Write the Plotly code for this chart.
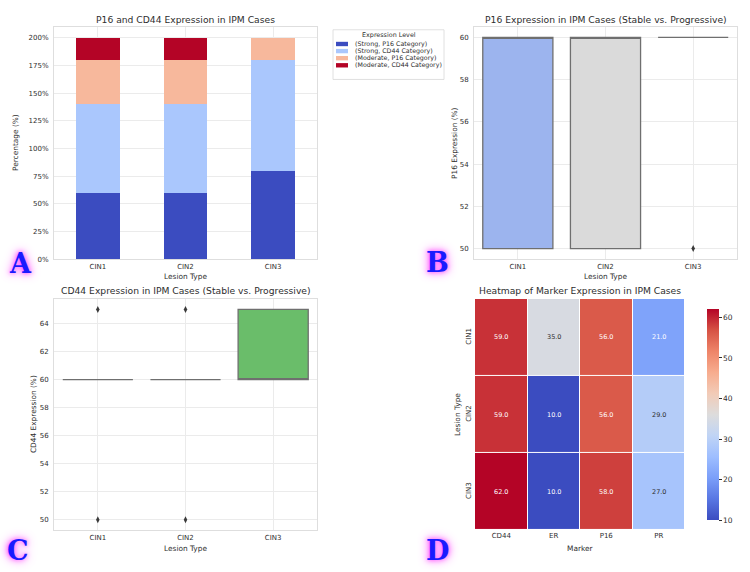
import numpy as np
import plotly.graph_objects as go
import plotly.colors as pc

W, H = 750, 572

# ---------------- data ----------------
lesions = ["CIN1", "CIN2", "CIN3"]

# Panel A: stacked percentages
bar_series = ["(Strong, P16 Category)", "(Strong, CD44 Category)",
              "(Moderate, P16 Category)", "(Moderate, CD44 Category)"]
strong_p16 = [60, 60, 80]
strong_cd44 = [80, 80, 100]
moderate_p16 = [40, 40, 20]
moderate_cd44 = [20, 20, 0]
bar_colors = ["#3b4cc0", "#aac7fd", "#f7b89c", "#b40426"]
pct_ticks = [0, 25, 50, 75, 100, 125, 150, 175, 200]

# Panels B/C: case values per lesion type
p16_cin1 = [50, 50, 60, 60, 60]
p16_cin2 = [50, 50, 60, 60, 60]
p16_cin3 = [60, 60, 60, 60, 50]
cd44_cin1 = [60, 60, 60, 65, 50]
cd44_cin2 = [60, 60, 60, 65, 50]
cd44_cin3 = [60, 60, 65, 65, 60]
p16_box_colors = ["#9cb4ee", "#dadada", "#e8a08a"]
cd44_box_colors = ["#8fb3e0", "#f0a860", "#6abd6a"]

# Panel D: heatmap of means
markers = ["CD44", "ER", "P16", "PR"]
heat_cin1 = [59, 35, 56, 21]
heat_cin2 = [59, 10, 56, 29]
heat_cin3 = [62, 10, 58, 27]

coolwarm = ['#3b4cc0', '#5977e3', '#7b9ff9', '#9ebeff', '#c0d4f5', '#dddcdc',
            '#f2cbb7', '#f7ac8e', '#ee8468', '#d65244', '#b40426']
cw_scale = [[i / 10, c] for i, c in enumerate(coolwarm)]

TXT = "#2e2e2e"
GRID = "#ebebeb"
FRAME = "#dedede"
FONT = "DejaVu Sans"


def X(px):
    return px / W


def Y(py):
    return 1 - py / H


fig = go.Figure()

# ---------------- Panel A ----------------
for name, vals, col in zip(bar_series, [strong_p16, strong_cd44, moderate_p16, moderate_cd44], bar_colors):
    fig.add_trace(go.Bar(x=lesions, y=vals, name=name, marker=dict(color=col, line=dict(width=0)),
                         width=0.5, xaxis="x", yaxis="y", showlegend=False))


# ---------------- Panels B, C ----------------
def box_stats(v):
    v = np.asarray(v, dtype=float)
    q1, med, q3 = np.percentile(v, [25, 50, 75])
    iqr = q3 - q1
    inside = v[(v >= q1 - 1.5 * iqr) & (v <= q3 + 1.5 * iqr)]
    lo, hi = inside.min(), inside.max()
    out = v[(v < lo) | (v > hi)]
    return q1, med, q3, lo, hi, out


def add_boxes(groups, colors, xa, ya):
    for lesion, vals, col in zip(lesions, groups, colors):
        q1, med, q3, lo, hi, out = box_stats(vals)
        fig.add_trace(go.Box(x=[lesion], q1=[q1], median=[med], q3=[q3],
                             lowerfence=[lo], upperfence=[hi], fillcolor=col,
                             line=dict(color="#6f6f6f", width=1.3), width=0.8,
                             whiskerwidth=0.5, boxpoints=False, xaxis=xa, yaxis=ya,
                             showlegend=False))
        if len(out):
            fig.add_trace(go.Scatter(x=[lesion] * len(out), y=list(out), mode="markers",
                                     marker=dict(symbol="diamond-tall", size=5, color="#3a3a3a"),
                                     xaxis=xa, yaxis=ya, showlegend=False))


add_boxes([p16_cin1, p16_cin2, p16_cin3], p16_box_colors, "x2", "y2")
add_boxes([cd44_cin1, cd44_cin2, cd44_cin3], cd44_box_colors, "x3", "y3")

# ---------------- Panel D ----------------
z = [heat_cin1, heat_cin2, heat_cin3]
zmin = min(min(r) for r in z)
zmax = max(max(r) for r in z)
fig.add_trace(go.Heatmap(z=z, x=markers, y=lesions, colorscale=cw_scale, zmin=zmin, zmax=zmax,
                         xgap=1, ygap=1, xaxis="x4", yaxis="y4",
                         colorbar=dict(x=X(697), xanchor="left", xref="paper",
                                       y=Y(534), yanchor="bottom", yref="paper",
                                       len=(534 - 301) / H, lenmode="fraction", thickness=12,
                                       outlinewidth=0, ticks="outside", ticklen=3, tickwidth=1,
                                       tickcolor=TXT, tickvals=[10, 20, 30, 40, 50, 60],
                                       tickfont=dict(size=7.5, color=TXT, family=FONT))))


def lum(rgbstr):
    r, g, b = [float(t) / 255 for t in rgbstr.strip("rgb() ").split(",")]
    lin = [c / 12.92 if c <= 0.03928 else ((c + 0.055) / 1.055) ** 2.4 for c in (r, g, b)]
    return 0.2126 * lin[0] + 0.7152 * lin[1] + 0.0722 * lin[2]


annots = []
for i, lesion in enumerate(lesions):
    for j, m in enumerate(markers):
        v = z[i][j]
        col = pc.sample_colorscale(cw_scale, [(v - zmin) / (zmax - zmin)])[0]
        tc = TXT if lum(col) > 0.408 else "white"
        annots.append(dict(x=m, y=lesion, xref="x4", yref="y4", text=f"{v:.1f}", showarrow=False,
                           font=dict(size=6.5, color=tc, family=FONT)))


def text(x, y, s, size, angle=0, xanchor="center", color=TXT):
    annots.append(dict(x=X(x), y=Y(y), xref="paper", yref="paper", text=s, showarrow=False,
                       textangle=angle, xanchor=xanchor, yanchor="middle",
                       font=dict(size=size, color=color, family=FONT)))


# titles
text(185.5, 20, "P16 and CD44 Expression in IPM Cases", 9.2)
text(605.5, 20, "P16 Expression in IPM Cases (Stable vs. Progressive)", 9.2)
text(185.5, 293, "CD44 Expression in IPM Cases (Stable vs. Progressive)", 9.2)
text(580, 293, "Heatmap of Marker Expression in IPM Cases", 9.2)
# axis titles
text(185.5, 278, "Lesion Type", 7.4)
text(605.5, 278, "Lesion Type", 7.4)
text(185.5, 552, "Lesion Type", 7.4)
text(580, 552, "Marker", 7.4)
text(16, 144, "Percentage (%)", 7.4, angle=-90)
text(455, 144, "P16 Expression (%)", 7.4, angle=-90)
text(33, 417, "CD44 Expression (%)", 7.4, angle=-90)
text(457, 417, "Lesion Type", 7.4, angle=-90)

# custom legend for panel A
shapes = [dict(type="rect", xref="paper", yref="paper", x0=X(333), x1=X(444), y0=Y(80), y1=Y(30),
               line=dict(color="#d8d8d8", width=0.8), fillcolor="white", layer="above")]
text(389, 35.5, "Expression Level", 6.4)
for k, (name, col) in enumerate(zip(bar_series, bar_colors)):
    yc = 44.3 + k * 7.15
    shapes.append(dict(type="rect", xref="paper", yref="paper", x0=X(336), x1=X(348),
                       y0=Y(yc + 2.2), y1=Y(yc - 2.2), line=dict(width=0), fillcolor=col, layer="above"))
    text(353, yc, name, 6.3, xanchor="left")

# panel letters
for letter, (lx, ly) in zip("ABCD", [(20, 265), (437, 264), (18, 554), (437, 554)]):
    annots.append(dict(x=X(lx), y=Y(ly), xref="paper", yref="paper", text=letter, showarrow=False,
                       xanchor="center", yanchor="middle",
                       font=dict(size=27, color="#1a1aff", family="DejaVu Serif", weight="bold",
                                 shadow="0px 0px 4px #ff55ff, 0px 0px 8px #ff77ff, 0px 0px 12px #ffaaff")))

tick_font = dict(size=7, color=TXT, family=FONT)


def cat_x(dom, anchor):
    return dict(domain=dom, anchor=anchor, type="category", categoryorder="array",
                categoryarray=lesions, range=[-0.5, 2.5], showgrid=True, gridcolor=GRID,
                gridwidth=1, showline=True, mirror=True, linecolor=FRAME, linewidth=1,
                ticks="", tickfont=tick_font, zeroline=False, fixedrange=True)


def num_y(dom, anchor, rng, vals, labels=None):
    d = dict(domain=dom, anchor=anchor, range=rng, tickmode="array", tickvals=vals,
             showgrid=True, gridcolor=GRID, gridwidth=1, showline=True, mirror=True,
             linecolor=FRAME, linewidth=1, ticks="", tickfont=tick_font, zeroline=False,
             ticklabelstandoff=3)
    if labels is not None:
        d["ticktext"] = labels
    return d


fig.update_layout(
    width=W, height=H, margin=dict(l=0, r=0, t=0, b=0),
    paper_bgcolor="white", plot_bgcolor="white",
    barmode="stack", boxmode="overlay", showlegend=False,
    font=dict(family=FONT, color=TXT),
    xaxis=cat_x([X(54), X(317)], "y"),
    yaxis=num_y([Y(261), Y(27)], "x", [0, 210], pct_ticks, [f"{v}%" for v in pct_ticks]),
    xaxis2=cat_x([X(474), X(737)], "y2"),
    yaxis2=num_y([Y(261), Y(27)], "x2", [49.5, 60.5], [50, 52, 54, 56, 58, 60]),
    xaxis3=cat_x([X(54), X(317)], "y3"),
    yaxis3=num_y([Y(534), Y(301)], "x3", [49.25, 65.75], [50, 52, 54, 56, 58, 60, 62, 64]),
    xaxis4=dict(domain=[X(475), X(685)], anchor="y4", showgrid=False, showline=False,
                ticks="", tickfont=tick_font, zeroline=False),
    yaxis4=dict(domain=[Y(534), Y(301)], anchor="x4", autorange="reversed", showgrid=False,
                showline=False, ticks="", tickfont=tick_font, tickangle=-90, zeroline=False,
                ticklabelstandoff=2),
    annotations=annots, shapes=shapes,
)

fig.write_html("out.html")
